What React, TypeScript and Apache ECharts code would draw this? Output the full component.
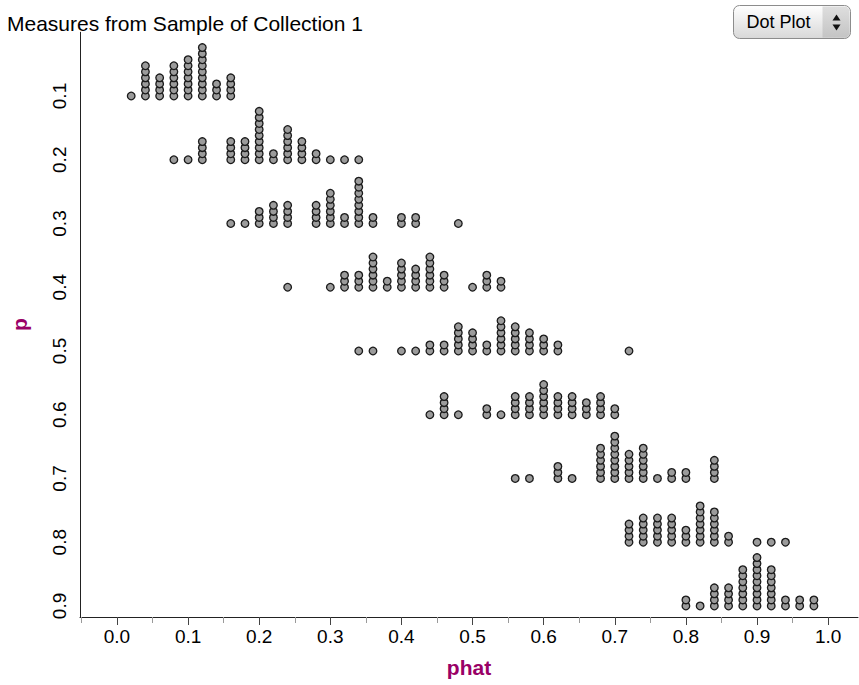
import React, { useEffect, useRef } from "react";
import * as echarts from "echarts";

// Population proportion p for each row (top to bottom)
const pLevels = [0.1, 0.2, 0.3, 0.4, 0.5, 0.6, 0.7, 0.8, 0.9];

// [phat, number of samples] for each row (40 samples per row)
const rowP01: [number, number][] = [[0.02, 1], [0.04, 6], [0.06, 4], [0.08, 6], [0.10, 7], [0.12, 9], [0.14, 3], [0.16, 4]];
const rowP02: [number, number][] = [[0.08, 1], [0.10, 1], [0.12, 4], [0.16, 4], [0.18, 4], [0.20, 9], [0.22, 2], [0.24, 6], [0.26, 4], [0.28, 2], [0.30, 1], [0.32, 1], [0.34, 1]];
const rowP03: [number, number][] = [[0.16, 1], [0.18, 1], [0.20, 3], [0.22, 4], [0.24, 4], [0.28, 4], [0.30, 6], [0.32, 2], [0.34, 8], [0.36, 2], [0.40, 2], [0.42, 2], [0.48, 1]];
const rowP04: [number, number][] = [[0.24, 1], [0.30, 1], [0.32, 3], [0.34, 3], [0.36, 6], [0.38, 2], [0.40, 5], [0.42, 4], [0.44, 6], [0.46, 3], [0.50, 1], [0.52, 3], [0.54, 2]];
const rowP05: [number, number][] = [[0.34, 1], [0.36, 1], [0.40, 1], [0.42, 1], [0.44, 2], [0.46, 2], [0.48, 5], [0.50, 4], [0.52, 2], [0.54, 6], [0.56, 5], [0.58, 4], [0.60, 3], [0.62, 2], [0.72, 1]];
const rowP06: [number, number][] = [[0.44, 1], [0.46, 4], [0.48, 1], [0.52, 2], [0.54, 1], [0.56, 4], [0.58, 4], [0.60, 6], [0.62, 4], [0.64, 4], [0.66, 3], [0.68, 4], [0.70, 2]];
const rowP07: [number, number][] = [[0.56, 1], [0.58, 1], [0.62, 3], [0.64, 1], [0.68, 6], [0.70, 8], [0.72, 5], [0.74, 6], [0.76, 1], [0.78, 2], [0.80, 2], [0.84, 4]];
const rowP08: [number, number][] = [[0.72, 4], [0.74, 5], [0.76, 5], [0.78, 5], [0.80, 3], [0.82, 7], [0.84, 6], [0.86, 2], [0.90, 1], [0.92, 1], [0.94, 1]];
const rowP09: [number, number][] = [[0.80, 2], [0.82, 1], [0.84, 4], [0.86, 4], [0.88, 7], [0.90, 9], [0.92, 7], [0.94, 2], [0.96, 2], [0.98, 2]];

const rows = [rowP01, rowP02, rowP03, rowP04, rowP05, rowP06, rowP07, rowP08, rowP09];

const xMajorTicks = [0, 0.1, 0.2, 0.3, 0.4, 0.5, 0.6, 0.7, 0.8, 0.9, 1.0];
const xMinorTicks = [-0.05, 0.05, 0.15, 0.25, 0.35, 0.45, 0.55, 0.65, 0.75, 0.85, 0.95];

const xAxisTitle = "phat";
const yAxisTitle = "p";
const chartTitle = "Measures from Sample of Collection 1";
const selectorLabel = "Dot Plot";

const FONT = "'Liberation Sans', Arial, sans-serif";
const NARROW = "'Liberation Sans Narrow', 'Liberation Sans', Arial, sans-serif";
const PURPLE = "#990066";

const GRID_TOP = 32.25;
const GRID_BOTTOM = 68;
const HEIGHT = 685;

export default function App() {
  const ref = useRef<HTMLDivElement>(null);

  useEffect(() => {
    if (!ref.current) return;
    const chart = echarts.init(ref.current, null, { renderer: "svg" });

    const dots: number[][] = [];
    rows.forEach((row, i) => {
      row.forEach(([phat, n]) => {
        for (let k = 0; k < n; k++) dots.push([phat, pLevels[i], k]);
      });
    });

    const gridHeight = HEIGHT - GRID_TOP - GRID_BOTTOM;

    chart.setOption({
      animation: false,
      backgroundColor: "#fff",
      grid: { left: 80, right: 1, top: GRID_TOP, bottom: GRID_BOTTOM, containLabel: false },
      xAxis: [
        {
          type: "value",
          min: -0.052,
          max: 1.042,
          position: "bottom",
          axisLine: { show: true, onZero: false, lineStyle: { color: "#222", width: 1 } },
          axisTick: { show: true, interval: 0, customValues: xMajorTicks, length: 8, lineStyle: { color: "#444", width: 1 } },
          axisLabel: {
            customValues: xMajorTicks,
            interval: 0,
            formatter: (v: number) => v.toFixed(1),
            fontSize: 19,
            fontFamily: NARROW,
            color: "#000",
            margin: 10,
          },
          splitLine: { show: false },
          name: xAxisTitle,
          nameLocation: "middle",
          nameGap: 40,
          nameTextStyle: { color: PURPLE, fontWeight: "bold", fontSize: 21, fontFamily: FONT },
        },
        {
          // minor ticks: a second axis moved down onto the bottom edge
          type: "value",
          min: -0.052,
          max: 1.042,
          position: "top",
          offset: -gridHeight,
          axisLine: { show: false },
          axisTick: { show: true, inside: true, interval: 0, customValues: xMinorTicks, length: 6, lineStyle: { color: "#9a9a9a", width: 1 } },
          axisLabel: { show: false },
          splitLine: { show: false },
        },
      ],
      yAxis: {
        type: "value",
        inverse: true,
        min: 0,
        max: 0.9173,
        axisLine: { show: true, onZero: false, lineStyle: { color: "#222", width: 1 } },
        axisTick: { show: false },
        splitLine: { show: false },
        axisLabel: {
          customValues: pLevels,
          formatter: (v: number) => v.toFixed(1),
          rotate: 90,
          fontSize: 19,
          fontFamily: NARROW,
          color: "#000",
          margin: 11,
        },
        name: yAxisTitle,
        nameLocation: "middle",
        nameRotate: 90,
        nameGap: 50,
        nameTextStyle: { color: PURPLE, fontWeight: "bold", fontSize: 21, fontFamily: FONT },
      },
      graphic: [
        {
          type: "text",
          left: 7,
          top: 13,
          style: { text: chartTitle, font: `21px ${FONT}`, fill: "#000" },
        },
        {
          type: "group",
          left: 733,
          top: 5,
          children: [
            {
              type: "rect",
              shape: { x: 0, y: 0, width: 117, height: 33, r: 6 },
              style: {
                fill: new echarts.graphic.LinearGradient(0, 0, 0, 1, [
                  { offset: 0, color: "#ffffff" },
                  { offset: 1, color: "#d8d8d8" },
                ]),
                stroke: "#8c8c8c",
                lineWidth: 1,
              },
            },
            {
              type: "rect",
              shape: { x: 89, y: 1, width: 27, height: 31, r: [0, 5, 5, 0] },
              style: {
                fill: new echarts.graphic.LinearGradient(0, 0, 0, 1, [
                  { offset: 0, color: "#dedede" },
                  { offset: 1, color: "#c4c4c4" },
                ]),
              },
            },
            {
              type: "text",
              x: 13,
              y: 16.5,
              style: { text: selectorLabel, font: `18px ${FONT}`, fill: "#000", verticalAlign: "middle" },
            },
            {
              type: "polygon",
              shape: { points: [[103, 9], [99, 15], [107, 15]] },
              style: { fill: "#111" },
            },
            {
              type: "polygon",
              shape: { points: [[99, 19], [107, 19], [103, 25]] },
              style: { fill: "#111" },
            },
          ],
        },
      ],
      series: [
        {
          type: "custom",
          xAxisIndex: 0,
          yAxisIndex: 0,
          data: dots,
          encode: { x: 0, y: 1 },
          renderItem: (_params: any, api: any) => {
            const c = api.coord([api.value(0), api.value(1)]);
            return {
              type: "circle",
              shape: { cx: c[0], cy: c[1] - api.value(2) * 6.05, r: 3.8 },
              style: { fill: "#9b9b9b", stroke: "#1a1a1a", lineWidth: 1.3 },
            };
          },
        },
      ],
    });

    return () => chart.dispose();
  }, []);

  return (
    <div
      ref={ref}
      style={{ position: "absolute", left: 0, top: 0, width: 859, height: 685 }}
    />
  );
}
